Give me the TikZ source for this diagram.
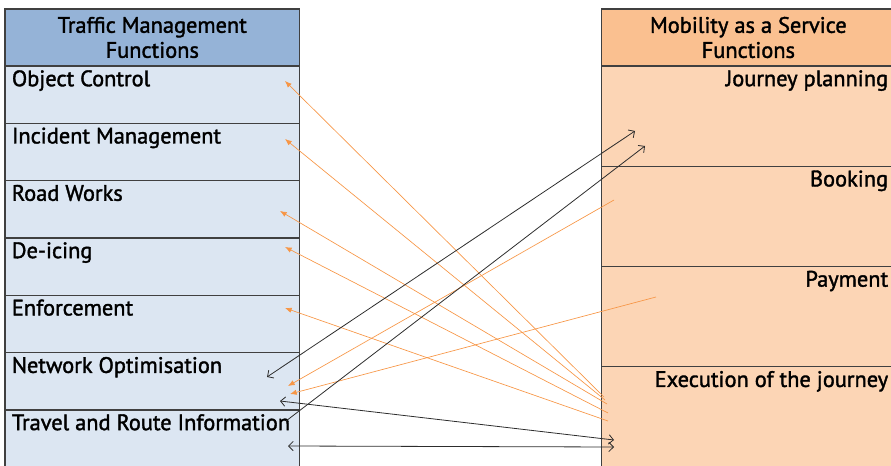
\documentclass[tikz,border=0pt]{standalone}
\usepackage{fontspec}
\setmainfont{PT Sans}[RawFeature={embolden=1.6}]
\usetikzlibrary{arrows.meta}
\definecolor{tmhead}{RGB}{149,179,215}
\definecolor{tmfill}{RGB}{220,230,242}
\definecolor{maashead}{RGB}{250,192,144}
\definecolor{maasfill}{RGB}{252,213,181}
\definecolor{linkorange}{RGB}{247,150,70}
\definecolor{boxline}{RGB}{64,64,64}
\definecolor{linkgray}{RGB}{45,45,45}
\begin{document}
\begin{tikzpicture}[x=0.75pt,y=-0.75pt,
    every node/.style={font=\fontsize{16.8}{18.75}\selectfont},
    tmbox/.style={draw=boxline,line width=1pt,fill=tmfill,anchor=north west,inner sep=0pt,
      outer sep=0pt,minimum width=220.9pt,minimum height=#1},
    maasbox/.style={draw=boxline,line width=1pt,fill=maasfill,anchor=north west,inner sep=0pt,
      outer sep=0pt,minimum width=220pt,minimum height=#1},
    tmlabel/.style={anchor=north west,inner xsep=5pt,inner ysep=3pt},
    maaslabel/.style={anchor=north east,inner xsep=5pt,inner ysep=3pt},
    orangelink/.style={draw=linkorange,line width=0.5pt,-{Latex[length=5pt,width=4pt]}},
    graylink/.style={draw=linkgray,line width=0.6pt},
    >={Straight Barb[length=3.5pt,width=7pt]}]
  \useasboundingbox (0,0) rectangle (891,466);
  % traffic management column
  \node[tmbox=42.75pt,fill=tmhead,align=center] (tmh) at (5,9) {Traffic Management\\Functions};
  \node[tmbox=43pt,label={[tmlabel]north west:Object Control}] (oc) at (tmh.south west) {};
  \node[tmbox=43pt,label={[tmlabel]north west:Incident Management}] (im) at (oc.south west) {};
  \node[tmbox=43pt,label={[tmlabel]north west:Road Works}] (rw) at (im.south west) {};
  \node[tmbox=43pt,label={[tmlabel]north west:De-icing}] (di) at (rw.south west) {};
  \node[tmbox=43pt,label={[tmlabel]north west:Enforcement}] (en) at (di.south west) {};
  \node[tmbox=43pt,label={[tmlabel]north west:Network Optimisation}] (no) at (en.south west) {};
  \node[tmbox=43pt,label={[tmlabel]north west:Travel and Route Information}] (tr) at (no.south west) {};
  % mobility as a service column
  \node[maasbox=42.75pt,fill=maashead,align=center] (mh) at (601.7,9) {Mobility as a Service\\Functions};
  \node[maasbox=75.2pt,label={[maaslabel]north east:Journey planning}] (jp) at (mh.south west) {};
  \node[maasbox=75.2pt,label={[maaslabel]north east:Booking}] (bk) at (jp.south west) {};
  \node[maasbox=75.2pt,label={[maaslabel]north east:Payment}] (pm) at (bk.south west) {};
  \node[maasbox=75.2pt,label={[maaslabel]north east:Execution of the journey}] (ex) at (pm.south west) {};
  % link ends
  \coordinate (oc-in) at (285,81);
  \coordinate (im-in) at (285,139);
  \coordinate (rw-in) at (280,211);
  \coordinate (di-in) at (285,247);
  \coordinate (en-in) at (285,308);
  \coordinate (no-in1) at (267,377);
  \coordinate (no-in2) at (288,386);
  \coordinate (no-in3) at (290,394);
  \coordinate (no-in4) at (280,401);
  \coordinate (tr-in1) at (286,421);
  \coordinate (tr-in2) at (288,446);
  \coordinate (jp-in1) at (635,131);
  \coordinate (jp-in2) at (645,146);
  \coordinate (bk-in) at (614,200);
  \coordinate (pm-in) at (656,297);
  \coordinate (ex-in1) at (604,397);
  \coordinate (ex-in2) at (605,400);
  \coordinate (ex-in3) at (607,404);
  \coordinate (ex-in4) at (608,413);
  \coordinate (ex-in5) at (608,421);
  \coordinate (ex-in6) at (614,440);
  \coordinate (ex-in7) at (614,447);
  % links
  \draw[orangelink] (ex-in1) -- (oc-in);
  \draw[orangelink] (ex-in2) -- (im-in);
  \draw[orangelink] (ex-in3) -- (rw-in);
  \draw[orangelink] (ex-in4) -- (di-in);
  \draw[orangelink] (ex-in5) -- (en-in);
  \draw[orangelink] (bk-in) -- (no-in2);
  \draw[orangelink] (pm-in) -- (no-in3);
  \draw[graylink,<->] (no-in1) -- (jp-in1);
  \draw[graylink,->] (tr-in1) -- (jp-in2);
  \draw[graylink,<->] (no-in4) -- (ex-in6);
  \draw[graylink,<->] (tr-in2) -- (ex-in7);
\end{tikzpicture}
\end{document}
